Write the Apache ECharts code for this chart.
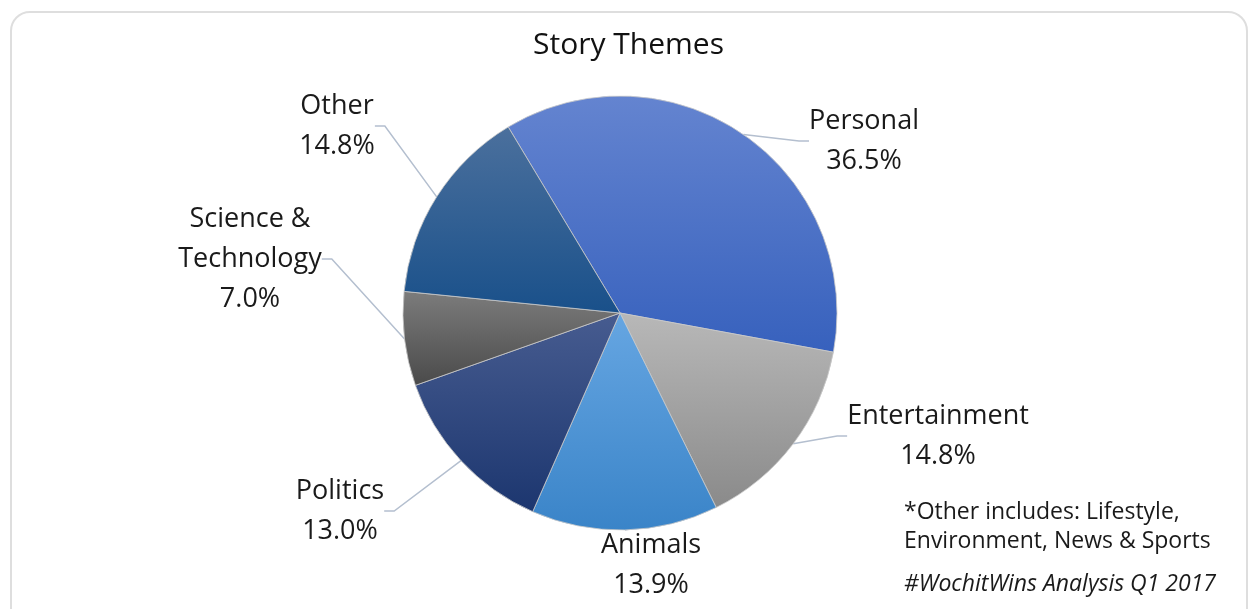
<!DOCTYPE html>
<html>
<head>
<meta charset="utf-8">
<script src="https://cdn.jsdelivr.net/npm/echarts@6/dist/echarts.min.js"></script>
<style>
  html, body { margin: 0; padding: 0; background: #fff; }
  #frame {
    position: absolute; left: 10px; top: 11px; width: 1238px; height: 640px;
    border: 2px solid #dedede; border-radius: 20px; box-sizing: border-box;
  }
  #chart { position: absolute; left: 0; top: 0; width: 1257px; height: 609px; }
</style>
</head>
<body>
<div id="frame"></div>
<div id="chart"></div>
<script>
// Story theme shares (percent), clockwise from the top-left
const categories = ['Personal', 'Entertainment', 'Animals', 'Politics', 'Science &\nTechnology', 'Other'];
const shares = [36.5, 14.8, 13.9, 13.0, 7.0, 14.8];
const footnotes = ['*Other includes: Lifestyle,', 'Environment, News & Sports'];
const credit = '#WochitWins Analysis Q1 2017';

// top / bottom gradient stops for each slice
const sliceColors = [
  ['#6484d0', '#3761bd'],
  ['#b8b8b8', '#8a8a8a'],
  ['#66a6e2', '#3a84c8'],
  ['#475c90', '#1c366f'],
  ['#7c7c7c', '#4a4a4a'],
  ['#4b709d', '#19508a']
];

// label anchor points (centre of each text block)
const labelSpots = [
  [864, 141], [938, 436], [651, 565], [340, 511], [250, 259], [337, 126]
];

const FONT = '"Open Sans", Lato, sans-serif';

const chart = echarts.init(document.getElementById('chart'), null, { renderer: 'canvas' });

chart.setOption({
  animation: false,
  title: {
    text: 'Story Themes',
    left: 'center',
    top: 25,
    textStyle: { fontFamily: FONT, fontWeight: 'normal', fontSize: 30, color: '#111' }
  },
  graphic: [
    {
      type: 'text', left: 904, top: 498,
      style: {
        text: footnotes.join('\n'), fontFamily: FONT, fontSize: 23,
        lineHeight: 29, fill: '#1a1a1a'
      }
    },
    {
      type: 'text', left: 904, top: 573,
      style: {
        text: credit, fontFamily: FONT, fontSize: 23, fontStyle: 'italic', fill: '#1a1a1a'
      }
    }
  ],
  series: [{
    type: 'pie',
    center: [620, 313],
    radius: 217,
    startAngle: 121,
    clockwise: true,
    data: categories.map((name, i) => ({
      name: name,
      value: shares[i],
      itemStyle: {
        color: new echarts.graphic.LinearGradient(0, 0, 0, 1, [
          { offset: 0, color: sliceColors[i][0] },
          { offset: 1, color: sliceColors[i][1] }
        ])
      }
    })),
    itemStyle: { borderColor: '#c9c9c9', borderWidth: 0.8 },
    label: {
      show: true,
      position: 'outside',
      formatter: p => p.name + '\n' + p.value.toFixed(1) + '%',
      fontFamily: FONT,
      fontSize: 27,
      lineHeight: 40,
      color: '#1a1a1a',
      align: 'center'
    },
    labelLine: {
      show: true,
      length: 10,
      length2: 10,
      lineStyle: { color: '#b4bfcf', width: 1.5 }
    },
    labelLayout: function (params) {
      const spot = labelSpots[params.dataIndex];
      return {
        x: spot[0],
        y: spot[1],
        align: 'center',
        verticalAlign: 'middle'
      };
    }
  }]
});
</script>
</body>
</html>
